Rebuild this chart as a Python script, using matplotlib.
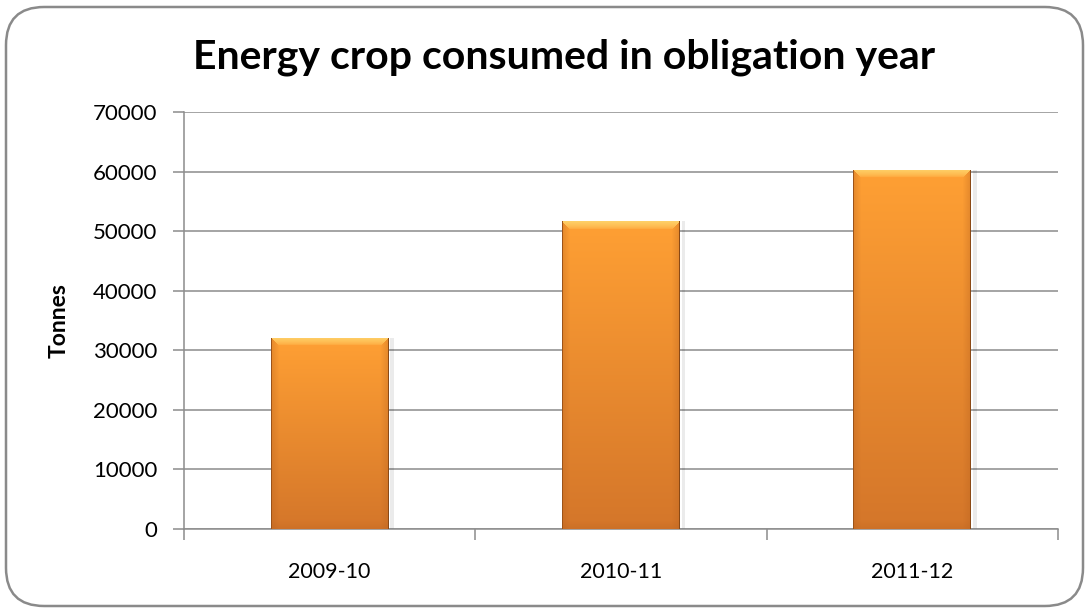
import numpy as np
import matplotlib
matplotlib.use("Agg")
import matplotlib.pyplot as plt
from matplotlib.patches import FancyBboxPatch
from matplotlib.colors import to_rgb

# Data
years = ["2009-10", "2010-11", "2011-12"]
tonnes = [32100, 51700, 60300]
y_ticks = [0, 10000, 20000, 30000, 40000, 50000, 60000, 70000]

plt.rcParams["font.family"] = ["Lato", "DejaVu Sans"]

W_PX, H_PX, DPI = 1090, 613, 100
fig = plt.figure(figsize=(W_PX / DPI, H_PX / DPI), dpi=DPI)
fig.patch.set_facecolor("white")

# Rounded outer frame
frame = FancyBboxPatch((6 / W_PX, 7 / H_PX), 1 - 13 / W_PX, 1 - 14 / H_PX,
                       boxstyle="round,pad=0,rounding_size=0.035",
                       transform=fig.transFigure, facecolor="none",
                       edgecolor="#8a8a8a", linewidth=1.8,
                       mutation_aspect=W_PX / H_PX, zorder=-1)
fig.patches.append(frame)

ax = fig.add_axes([184 / W_PX, 1 - 529 / H_PX, (1058 - 184) / W_PX, (529 - 112) / H_PX])
ax.set_facecolor("none")

x = np.arange(len(years))
ax.set_xlim(-0.5, len(years) - 0.5)
ax.set_ylim(0, 70000)

# Grid and spines
ax.set_yticks(y_ticks)
ax.set_yticklabels([str(v) for v in y_ticks], fontsize=16)
ax.yaxis.grid(True, color="#8c8c8c", linewidth=1.1)
ax.set_axisbelow(True)
for s in ["top", "right"]:
    ax.spines[s].set_visible(False)
for s in ["left", "bottom"]:
    ax.spines[s].set_color("#8c8c8c")
    ax.spines[s].set_linewidth(1.1)
ax.tick_params(axis="y", length=8, width=1.1, color="#8c8c8c", pad=11)

ax.set_xticks(np.arange(len(years) + 1) - 0.5)
ax.set_xticklabels([])
ax.tick_params(axis="x", which="major", length=8, width=1.1, color="#8c8c8c")
ax.set_xticks(x, minor=True)
ax.set_xticklabels(years, minor=True, fontsize=15.5)
ax.tick_params(axis="x", which="minor", length=0, pad=24)

bar_w = 0.405
bars = ax.bar(x, tonnes, width=bar_w, color="#F08C30", edgecolor="none", zorder=2)

# Shaded bevel fill for each bar
top_c = np.array(to_rgb("#FFA034"))
bot_c = np.array(to_rgb("#D4762A"))
hi_c = np.array(to_rgb("#FFD870"))
side_c = np.array(to_rgb("#B8621E"))
fig.canvas.draw()
for rect in bars:
    x0, y0 = rect.get_x(), rect.get_y()
    w, h = rect.get_width(), rect.get_height()
    p0 = ax.transData.transform((x0, y0))
    p1 = ax.transData.transform((x0 + w, y0 + h))
    npx_w = max(int(round(p1[0] - p0[0])), 2)
    npx_h = max(int(round(p1[1] - p0[1])), 2)
    rows = np.linspace(0, 1, npx_h)[:, None]  # 0 = top
    img = top_c[None, None, :] * (1 - rows[..., None]) + bot_c[None, None, :] * rows[..., None]
    img = np.repeat(img, npx_w, axis=1)
    yy, xx = np.mgrid[0:npx_h, 0:npx_w]
    bev = 8.0
    # top highlight band
    t = np.clip(1 - yy / bev, 0, 1) ** 0.6
    top_mask = (yy < bev) & (xx >= yy) & (npx_w - 1 - xx >= yy)
    img[top_mask] = img[top_mask] * (1 - 0.85 * t[top_mask, None]) + hi_c * 0.85 * t[top_mask, None]
    # side bands slightly darker
    dl = np.clip(1 - xx / bev, 0, 1)
    dr = np.clip(1 - (npx_w - 1 - xx) / bev, 0, 1)
    side = np.maximum(dl, dr) * (~top_mask)
    img = img * (1 - 0.35 * side[..., None]) + side_c * 0.35 * side[..., None]
    # bottom band darker
    db = np.clip(1 - (npx_h - 1 - yy) / bev, 0, 1)
    img = img * (1 - 0.25 * db[..., None]) + side_c * 0.25 * db[..., None]
    # thin dark outline on the sides
    img[:, 0] = side_c * 0.85
    img[:, -1] = side_c * 0.75
    im = ax.imshow(img, extent=(x0, x0 + w, y0, y0 + h), aspect="auto",
                   interpolation="bilinear", zorder=3)
    im.set_clip_path(rect)
    # soft shadow on the right
    ax.bar(x0 + w + 0.006, h, width=0.012, align="edge", color="#000000",
           alpha=0.08, edgecolor="none", zorder=1.5)

ax.set_xlim(-0.5, len(years) - 0.5)
ax.set_ylim(0, 70000)

fig.text(59 / W_PX, 1 - 321 / H_PX, "Tonnes", rotation=90, ha="center", va="center",
         fontsize=16.5, fontweight="bold")
fig.text(564 / W_PX, 1 - 57 / H_PX, "Energy crop consumed in obligation year",
         ha="center", va="center", fontsize=29.5, fontweight="bold")

fig.savefig("out.png", dpi=DPI)
